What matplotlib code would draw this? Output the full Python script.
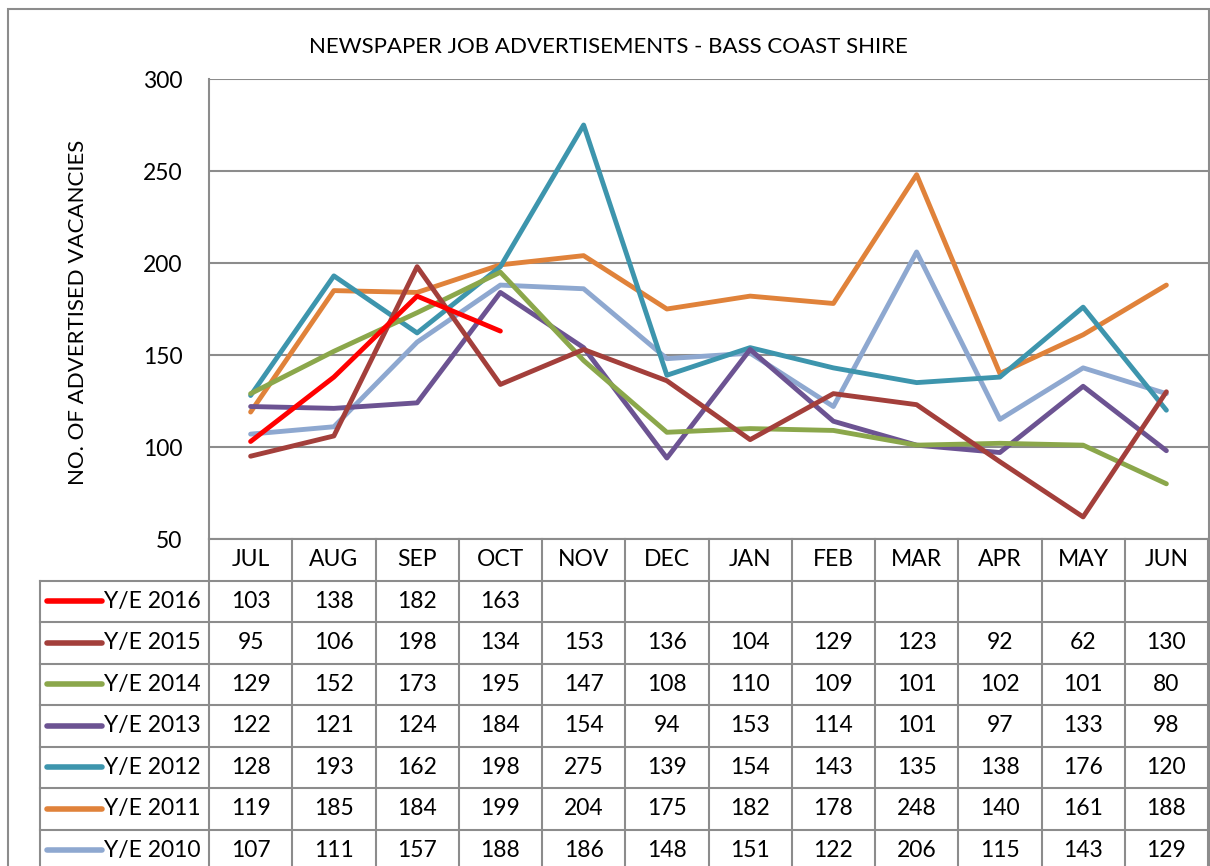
import numpy as np
import matplotlib.pyplot as plt
from matplotlib.patches import Rectangle

plt.rcParams['font.family'] = ['Lato', 'DejaVu Sans']

months = ['JUL', 'AUG', 'SEP', 'OCT', 'NOV', 'DEC', 'JAN', 'FEB', 'MAR', 'APR', 'MAY', 'JUN']
series_names = ['Y/E 2016', 'Y/E 2015', 'Y/E 2014', 'Y/E 2013', 'Y/E 2012', 'Y/E 2011', 'Y/E 2010']
ye2016 = [103, 138, 182, 163, None, None, None, None, None, None, None, None]
ye2015 = [95, 106, 198, 134, 153, 136, 104, 129, 123, 92, 62, 130]
ye2014 = [129, 152, 173, 195, 147, 108, 110, 109, 101, 102, 101, 80]
ye2013 = [122, 121, 124, 184, 154, 94, 153, 114, 101, 97, 133, 98]
ye2012 = [128, 193, 162, 198, 275, 139, 154, 143, 135, 138, 176, 120]
ye2011 = [119, 185, 184, 199, 204, 175, 182, 178, 248, 140, 161, 188]
ye2010 = [107, 111, 157, 188, 186, 148, 151, 122, 206, 115, 143, 129]
series = [ye2016, ye2015, ye2014, ye2013, ye2012, ye2011, ye2010]
colors = ['#FF0000', '#A33F3B', '#8BA74B', '#6C5392', '#3D95AD', '#E0823A', '#8EA8D0']

W, H = 1210, 866
fig = plt.figure(figsize=(W / 100, H / 100), dpi=100)

# pixel layout
px_left, px_right, px_top, px_bot = 209, 1208, 79, 539
colw = (px_right - px_left) / 12.0
rowh = 41.5
leg_left = 40
fs = 16.5

ax = fig.add_axes([px_left / W, 1 - px_bot / H, (px_right - px_left) / W, (px_bot - px_top) / H])
x = np.arange(12)
# draw older series first so newer lie on top
for name, vals, c in reversed(list(zip(series_names, series, colors))):
    y = np.array([np.nan if v is None else v for v in vals], dtype=float)
    ax.plot(x, y, color=c, lw=3.5, solid_joinstyle='round', solid_capstyle='round', zorder=3)

ax.set_xlim(-0.5, 11.5)
ax.set_ylim(50, 300)
ax.set_yticks([50, 100, 150, 200, 250, 300])
ax.set_xticks([])
ax.grid(True, axis='y', color='#8C8C8C', lw=1.5)
ax.set_axisbelow(True)
ax.tick_params(axis='y', length=0, pad=19, labelsize=fs)
for s in ['top', 'right']:
    ax.spines[s].set_visible(False)
ax.spines['left'].set_color('#8C8C8C')
ax.spines['left'].set_linewidth(1.5)
ax.spines['bottom'].set_color('#8C8C8C')
ax.spines['bottom'].set_linewidth(1.5)

# data table below the plot
tax = fig.add_axes([leg_left / W, 0, (px_right - leg_left) / W, (H - px_bot) / H])
tx0 = -0.5 - (px_left - leg_left) / colw
tax.set_xlim(tx0, 11.5)
tax.set_ylim((H - px_bot) / rowh, 0)
tax.axis('off')
gc = '#8C8C8C'
nrows = len(series) + 1
ybot = (H - px_bot) / rowh + 0.5
# vertical lines
for i in range(13):
    tax.plot([i - 0.5, i - 0.5], [0, ybot], color=gc, lw=1.5, clip_on=False)
tax.plot([tx0, tx0], [1, ybot], color=gc, lw=1.5, clip_on=False)
# horizontal lines
for r in range(1, nrows):
    tax.plot([tx0, 11.5], [r, r], color=gc, lw=1.5, clip_on=False)
for i, m in enumerate(months):
    tax.text(i, 0.5, m, ha='center', va='center', fontsize=fs)
for r, (name, vals, c) in enumerate(zip(series_names, series, colors)):
    yy = r + 1.5
    tax.plot([tx0 + 7 / colw, tx0 + 62 / colw], [yy, yy], color=c, lw=4, solid_capstyle='round', clip_on=False)
    tax.text(tx0 + 64 / colw, yy, name, ha='left', va='center', fontsize=fs)
    for i, v in enumerate(vals):
        if v is not None:
            tax.text(i, yy, str(v), ha='center', va='center', fontsize=fs)

fig.text(608 / W, 1 - 47 / H, 'NEWSPAPER JOB ADVERTISEMENTS - BASS COAST SHIRE',
         ha='center', va='center', fontsize=16)
fig.text(78 / W, 1 - 312 / H, 'NO. OF ADVERTISED VACANCIES', rotation=90,
         ha='center', va='center', fontsize=16)

# outer chart frame
fig.patches.append(Rectangle((8 / W, -0.05), (1209 - 8) / W, 1.05 - 9 / H, transform=fig.transFigure,
                             fill=False, edgecolor='#8C8C8C', lw=1.5))

fig.savefig('out.png', dpi=100)
